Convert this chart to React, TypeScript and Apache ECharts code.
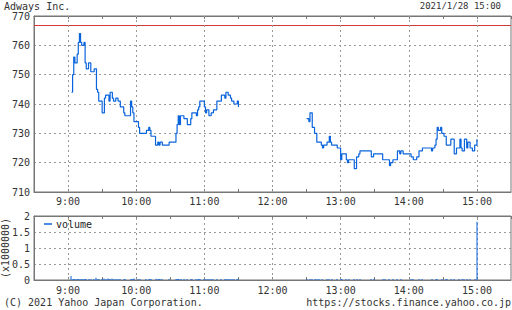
import React, { useEffect, useRef } from "react";
import * as echarts from "echarts";

const FONT = '"DejaVu Sans Mono", monospace';
const TEXT = "#333";
const AXIS = "#777";
const GRID = "#999";
const BLUE = "#0a64dc";

const title = "Adways Inc.";
const stamp = "2021/1/28 15:00";
const copyright = "(C) 2021 Yahoo Japan Corporation.";
const site = "https://stocks.finance.yahoo.co.jp";
const prevClose = 767;
const hourTicks = ["9:00", "10:00", "11:00", "12:00", "13:00", "14:00", "15:00"];

const amTimes = ["9:03","9:04","9:05","9:06","9:08","9:09","9:10","9:11","9:12","9:14","9:15","9:16","9:18","9:20","9:23","9:25","9:26","9:27","9:30","9:32","9:33","9:36","9:37","9:39","9:40","9:42","9:44","9:46","9:49","9:50","9:55","9:56","9:57","9:58","10:02","10:03","10:09","10:11","10:12","10:13","10:17","10:19","10:20","10:21","10:23","10:29","10:35","10:36","10:37","10:38","10:39","10:42","10:45","10:48","10:49","10:53","10:54","10:55","10:56","11:00","11:01","11:02","11:04","11:06","11:08","11:11","11:15","11:18","11:19","11:21","11:23","11:24","11:26","11:29","11:30"];
const amPrices = [744,750,756,754,757,761,764,761,760,761,754,752,754,751,752,745,744,741,737,742,743,741,744,742,741,742,741,739,737,736,741,739,737,734,732,730,731,732,731,729,726,727,726,727,726,727,730,733,736,733,736,735,733,735,737,736,738,739,741,739,737,738,736,737,738,741,743,742,744,743,742,741,740,741,739];

const pmTimes = ["12:30","12:32","12:33","12:35","12:37","12:39","12:43","12:44","12:45","12:48","12:50","12:51","12:52","12:57","13:00","13:01","13:05","13:06","13:07","13:12","13:14","13:16","13:17","13:27","13:29","13:37","13:43","13:44","13:46","13:50","13:52","13:53","13:55","14:02","14:04","14:07","14:09","14:12","14:20","14:21","14:23","14:24","14:25","14:26","14:28","14:29","14:31","14:33","14:37","14:40","14:42","14:45","14:46","14:47","14:49","14:51","14:52","14:54","14:56","14:58","15:00"];
const pmPrices = [735,734,737,732,730,727,726,725,726,727,729,727,726,725,721,723,721,720,721,718,722,723,724,722,723,721,719,720,721,724,723,724,723,722,721,722,724,725,724,725,726,728,732,731,732,730,729,726,728,723,725,728,725,724,728,725,727,725,724,726,728];

const volTimes = ["9:03","9:04","9:05","9:06","9:08","9:09","9:10","9:11","9:12","9:14","9:15","9:16","9:18","9:20","9:23","9:25","9:26","9:27","9:30","9:32","9:33","9:35","9:36","9:37","9:39","9:40","9:42","9:44","9:46","9:49","9:50","9:55","9:56","9:57","9:58","10:02","10:03","10:09","10:11","10:12","10:13","10:17","10:19","10:20","10:21","10:23","10:29","10:35","10:36","10:37","10:38","10:39","10:42","10:45","10:48","10:49","10:53","10:54","10:55","10:56","11:00","11:01","11:02","11:04","11:06","11:08","11:11","11:15","11:18","11:19","11:21","11:23","11:24","11:26","11:29","11:30","12:30","12:33","12:35","12:37","12:39","12:41","12:44","12:48","12:50","12:52","12:57","13:00","13:01","13:05","13:07","13:12","13:14","13:17","13:27","13:29","13:37","13:39","13:43","13:46","13:50","13:53","14:02","14:04","14:09","14:12","14:20","14:24","14:25","14:29","14:33","14:34","14:37","14:40","14:44","14:47","14:49","14:51","14:54","14:58","15:00"];
const volValues = [0.125,0.02,0.035,0.015,0.03,0.03,0.02,0.015,0.01,0.015,0.02,0.015,0.01,0.015,0.01,0.07,0.02,0.015,0.02,0.05,0.02,0.045,0.015,0.02,0.045,0.015,0.01,0.015,0.01,0.015,0.01,0.02,0.015,0.01,0.045,0.015,0.02,0.01,0.015,0.01,0.015,0.04,0.01,0.01,0.015,0.01,0.015,0.02,0.02,0.025,0.015,0.02,0.01,0.015,0.01,0.015,0.01,0.015,0.01,0.02,0.015,0.01,0.01,0.015,0.01,0.01,0.015,0.015,0.01,0.015,0.01,0.01,0.01,0.01,0.015,0.02,0.03,0.015,0.015,0.03,0.015,0.025,0.01,0.015,0.015,0.02,0.015,0.02,0.015,0.015,0.01,0.015,0.03,0.015,0.015,0.01,0.015,0.03,0.015,0.01,0.015,0.01,0.01,0.015,0.01,0.015,0.01,0.025,0.02,0.015,0.015,0.03,0.01,0.015,0.025,0.03,0.015,0.03,0.01,0.02,1.82];

const toMin = (s: string) => {
  const [h, m] = s.split(":").map(Number);
  return h * 60 + m;
};
const fmtMin = (v: number) => `${Math.floor(v / 60)}:${String(Math.round(v % 60)).padStart(2, "0")}`;

const X_MIN = toMin("8:30");
const X_MAX = toMin("15:30");

const hourLines = hourTicks.map((t) => ({ xAxis: toMin(t) }));

function xAxisFor(gridIndex: number, position: "top" | "bottom", labels: boolean, margin: number) {
  return {
    type: "value",
    gridIndex,
    position,
    min: X_MIN,
    max: X_MAX,
    interval: 30,
    axisLine: { show: true, lineStyle: { color: AXIS, width: 1 } },
    axisTick: { show: true, inside: true, length: 3, lineStyle: { color: AXIS } },
    axisLabel: {
      show: labels,
      margin,
      color: TEXT,
      fontSize: 10,
      fontFamily: FONT,
      showMinLabel: false,
      showMaxLabel: false,
      formatter: (v: number) => (v % 60 === 0 ? fmtMin(v) : ""),
    },
    splitLine: { show: false },
  };
}

export default function App() {
  const ref = useRef<HTMLDivElement>(null);
  useEffect(() => {
    if (!ref.current) return;
    const chart = echarts.init(ref.current, null, { renderer: "svg" });
    const dashed = { color: GRID, type: [2, 3] as any, width: 1 };
    const option: any = {
      animation: false,
      textStyle: { fontFamily: FONT, fontSize: 10, color: TEXT },
      grid: [
        { left: 34, top: 16, width: 477, height: 176, show: true, borderColor: AXIS, borderWidth: 1, backgroundColor: "transparent", containLabel: false, outerBoundsMode: "none" },
        { left: 34, top: 216, width: 477, height: 64, show: true, borderColor: AXIS, borderWidth: 1, backgroundColor: "transparent", containLabel: false, outerBoundsMode: "none" },
      ],
      legend: {
        data: [{ name: "volume", icon: "rect", itemStyle: { color: BLUE } }],
        left: 44,
        top: 219,
        padding: 0,
        itemWidth: 8,
        itemHeight: 1.5,
        itemGap: 4,
        textStyle: { fontFamily: FONT, fontSize: 10, color: "#222", padding: [0, 0, 0, -1] },
      },
      xAxis: [
        xAxisFor(0, "bottom", true, 4),
        xAxisFor(0, "top", false, 4),
        xAxisFor(1, "bottom", true, 5),
        xAxisFor(1, "top", false, 4),
      ],
      yAxis: [
        {
          type: "value",
          gridIndex: 0,
          min: 710,
          max: 770,
          interval: 10,
          axisLine: { show: true, lineStyle: { color: AXIS } },
          axisTick: { show: false },
          axisLabel: { margin: 4, color: TEXT, fontSize: 10, fontFamily: FONT },
          splitLine: { show: true, showMinLine: false, showMaxLine: false, lineStyle: dashed },
        },
        {
          type: "value",
          gridIndex: 1,
          min: 0,
          max: 2,
          interval: 0.5,
          name: "(x1000000)",
          nameLocation: "middle",
          nameRotate: 90,
          nameGap: 24,
          nameMoveOverlap: false,
          nameTextStyle: { color: TEXT, fontSize: 10, fontFamily: FONT },
          axisLine: { show: true, lineStyle: { color: AXIS } },
          axisTick: { show: false },
          axisLabel: { margin: 4, color: TEXT, fontSize: 10, fontFamily: FONT },
          splitLine: { show: true, showMinLine: false, showMaxLine: false, lineStyle: dashed },
        },
      ],
      series: [
        {
          name: "price-am",
          type: "line",
          xAxisIndex: 0,
          yAxisIndex: 0,
          step: "end",
          symbol: "none",
          lineStyle: { color: BLUE, width: 1.2 },
          data: amTimes.map((t, i) => [toMin(t), amPrices[i]]),
          markLine: {
            silent: true,
            symbol: "none",
            label: { show: false },
            lineStyle: { color: "#d43a3a", type: "solid", width: 1 },
            data: [{ yAxis: prevClose }],
          },
          z: 5,
        },
        {
          name: "price-pm",
          type: "line",
          xAxisIndex: 0,
          yAxisIndex: 0,
          step: "end",
          symbol: "none",
          lineStyle: { color: BLUE, width: 1.2 },
          data: pmTimes.map((t, i) => [toMin(t), pmPrices[i]]),
          markLine: {
            silent: true,
            symbol: "none",
            label: { show: false },
            lineStyle: dashed,
            data: hourLines,
          },
          z: 5,
        },
        {
          name: "volume",
          type: "custom",
          xAxisIndex: 2,
          yAxisIndex: 1,
          itemStyle: { color: BLUE },
          encode: { x: 0, y: 1 },
          data: volTimes.map((t, i) => [toMin(t), volValues[i]]),
          renderItem: (params: any, api: any) => {
            const x = api.value(0);
            const v = api.value(1);
            const p0 = api.coord([x, 0]);
            const p1 = api.coord([x, v]);
            const top = Math.min(p1[1], p0[1] - 1);
            return {
              type: "rect",
              shape: { x: Math.round(p0[0]) - 0.5, y: top, width: 1, height: p0[1] - top },
              style: { fill: BLUE },
            };
          },
          markLine: {
            silent: true,
            symbol: "none",
            label: { show: false },
            lineStyle: dashed,
            data: hourLines,
          },
          z: 5,
        },
      ],
      graphic: [
        { type: "text", x: 4, y: 6, style: { text: title, font: `10px ${FONT}`, fill: TEXT, textVerticalAlign: "middle" } },
        { type: "text", x: 501, y: 6, style: { text: stamp, font: `9px ${FONT}`, fill: TEXT, textAlign: "right", textVerticalAlign: "middle" } },
        { type: "text", x: 4, y: 302, style: { text: copyright, font: `10px ${FONT}`, fill: TEXT, textVerticalAlign: "middle" } },
        { type: "text", x: 511, y: 302, style: { text: site, font: `10px ${FONT}`, fill: TEXT, textAlign: "right", textVerticalAlign: "middle" } },
      ],
    };
    chart.setOption(option);
    return () => chart.dispose();
  }, []);
  return <div ref={ref} style={{ width: 512, height: 310, position: "absolute", left: 0, top: 0 }} />;
}
